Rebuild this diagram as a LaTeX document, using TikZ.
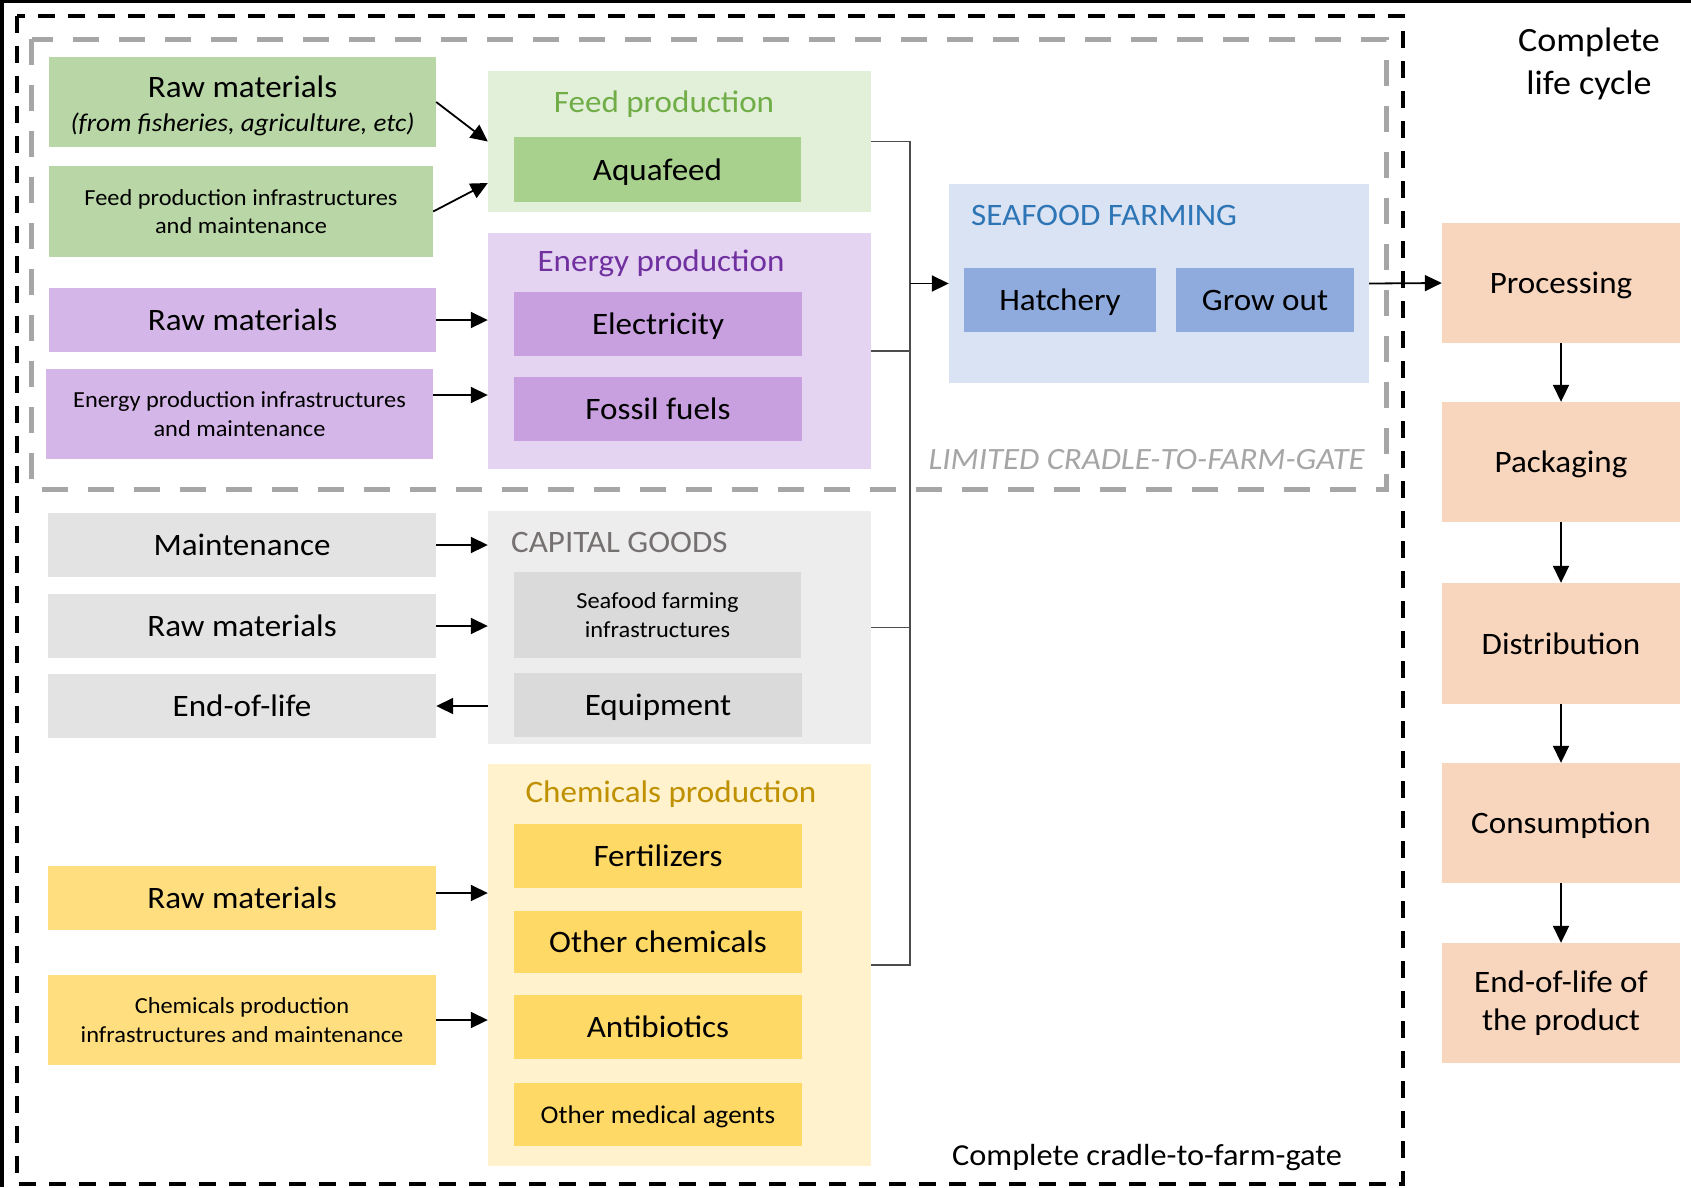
\documentclass[tikz,border=0pt]{standalone}
\usepackage{fontspec}
\setmainfont{Carlito}[FakeStretch=1.06]
\usetikzlibrary{arrows.meta}
\definecolor{gRaw}{HTML}{B9D7A6}
\definecolor{gIn}{HTML}{A9D18E}
\definecolor{gCont}{HTML}{E2F0D9}
\definecolor{gTxt}{HTML}{70AD47}
\definecolor{pRaw}{HTML}{D4B6E8}
\definecolor{pIn}{HTML}{C8A0E0}
\definecolor{pCont}{HTML}{E4D4F2}
\definecolor{pTxt}{HTML}{7030A0}
\definecolor{kRaw}{HTML}{E3E3E3}
\definecolor{kIn}{HTML}{DADADA}
\definecolor{kCont}{HTML}{EDEDED}
\definecolor{kTxt}{HTML}{767171}
\definecolor{yRaw}{HTML}{FFDE7F}
\definecolor{yIn}{HTML}{FFD966}
\definecolor{yCont}{HTML}{FFF2CC}
\definecolor{yTxt}{HTML}{BF9000}
\definecolor{bIn}{HTML}{8FAADC}
\definecolor{bCont}{HTML}{DAE3F3}
\definecolor{bTxt}{HTML}{2E75B6}
\definecolor{oBox}{HTML}{F8D6BD}
\definecolor{dashGray}{HTML}{A6A6A6}
\newcommand\bigf{\fontsize{31.2}{38}\selectfont}
\newcommand\smallf{\fontsize{23}{28.5}\selectfont}
\tikzset{
  box/.style={rectangle, draw=none, inner sep=0pt, align=center, font=\bigf, text height=27pt, text depth=6pt},
  mbox/.style={rectangle, draw=none, inner sep=0pt, align=center, font=\bigf},
  sbox/.style={mbox, font=\smallf},
  cont/.style={rectangle, draw=none, inner sep=0pt},
  arr/.style={line width=1.8pt, -{Triangle[length=17pt,width=16pt]}},
  conn/.style={line width=1.8pt, draw=black!70},
  lbl/.style={inner sep=0pt, font=\bigf, text height=24pt, text depth=6pt},
}
\begin{document}
\begin{tikzpicture}[x=1pt,y=-1pt]
\useasboundingbox (0,0) rectangle (1691,1187);
\fill[white] (0,0) rectangle (1691,1187);
% image border
\fill[black] (0,0) rectangle (1691,2.5);
\fill[black] (0,0) rectangle (4,1187);

% frames
\draw[black, line width=3.5pt, dash pattern=on 17pt off 13pt] (17,16) rectangle (1403,1184);
\draw[dashGray, line width=5pt, dash pattern=on 26pt off 20pt] (31.5,39) rectangle (1386,489);

% containers
\node[cont, fill=gCont, minimum width=383, minimum height=141] (feedc) at (679.5,141.5) {};
\node[cont, fill=pCont, minimum width=383, minimum height=236] (energyc) at (679.5,351) {};
\node[cont, fill=kCont, minimum width=383, minimum height=233] (capc) at (679.5,627.5) {};
\node[cont, fill=yCont, minimum width=383, minimum height=402] (chemc) at (679.5,965) {};
\node[cont, fill=bCont, minimum width=420, minimum height=199] (seafood) at (1159,283.5) {};

% container labels
\node[lbl, text=gTxt] (feedlbl) at (664,103) {Feed production};
\node[lbl, text=pTxt] (energylbl) at (661,262) {Energy production};
\node[lbl, text=kTxt, anchor=west] (caplbl) at (511,543) {CAPITAL GOODS};
\node[lbl, text=yTxt] (chemlbl) at (671,793) {Chemicals production};
\node[lbl, text=bTxt, anchor=west] (sealbl) at (971,216) {SEAFOOD FARMING};

% green
\node[cont, fill=gRaw, minimum width=387, minimum height=90,
  label={[name=gr1txt, align=center, font=\bigf, inner sep=0pt, yshift=-4pt]center:Raw materials\\[-4pt]{\fontsize{25.5}{31}\selectfont\itshape (from fisheries, agriculture, etc)}}] (gr1) at (242.5,102) {};
\node[sbox, fill=gRaw, minimum width=384, minimum height=91] (gr2) at (241,211.5)
  {Feed production infrastructures\\and maintenance};
\node[box, fill=gIn, minimum width=287, minimum height=65] (aqua) at (657.5,169.5) {Aquafeed};

% purple
\node[box, fill=pRaw, minimum width=387, minimum height=64] (pr) at (242.5,320) {Raw materials};
\node[sbox, fill=pRaw, minimum width=387, minimum height=90] (pi) at (239.5,414)
  {Energy production infrastructures\\and maintenance};
\node[box, fill=pIn, minimum width=288, minimum height=64] (elec) at (658,324) {Electricity};
\node[box, fill=pIn, minimum width=288, minimum height=64] (fossil) at (658,409) {Fossil fuels};

% gray
\node[box, fill=kRaw, minimum width=388, minimum height=64] (maint) at (242,545) {Maintenance};
\node[box, fill=kRaw, minimum width=388, minimum height=64] (kraw) at (242,626) {Raw materials};
\node[box, fill=kRaw, minimum width=388, minimum height=64] (keol) at (242,706) {End-of-life};
\node[sbox, fill=kIn, minimum width=287, minimum height=86] (sfi) at (657.5,615)
  {Seafood farming\\infrastructures};
\node[box, fill=kIn, minimum width=288, minimum height=64] (equip) at (658,705) {Equipment};

% yellow
\node[box, fill=yRaw, minimum width=388, minimum height=64] (yraw) at (242,898) {Raw materials};
\node[sbox, fill=yRaw, minimum width=388, minimum height=90] (yinf) at (242,1020)
  {Chemicals production\\infrastructures and maintenance};
\node[box, fill=yIn, minimum width=288, minimum height=64] (fert) at (658,856) {Fertilizers};
\node[box, fill=yIn, minimum width=288, minimum height=62] (ochem) at (658,942) {Other chemicals};
\node[box, fill=yIn, minimum width=288, minimum height=64] (antib) at (658,1027) {Antibiotics};
\node[box, fill=yIn, minimum width=288, minimum height=63, font=\fontsize{25.5}{30}\selectfont, text height=22pt, text depth=5pt] (omed) at (658,1114.5) {Other medical agents};

% blue
\node[box, fill=bIn, minimum width=192, minimum height=64] (hatch) at (1060,300) {Hatchery};
\node[box, fill=bIn, minimum width=178, minimum height=64] (grow) at (1265,300) {Grow out};

% orange
\node[box, fill=oBox, minimum width=238, minimum height=120] (proc) at (1561,283) {Processing};
\node[box, fill=oBox, minimum width=238, minimum height=120] (pack) at (1561,462) {Packaging};
\node[box, fill=oBox, minimum width=238, minimum height=121] (dist) at (1561,643.5) {Distribution};
\node[box, fill=oBox, minimum width=238, minimum height=120] (cons) at (1561,823) {Consumption};
\node[mbox, fill=oBox, minimum width=238, minimum height=120] (eolp) at (1561,1003) {End-of-life of\\the product};

% frame labels
\node[inner sep=0pt, font=\fontsize{31}{37}\selectfont\itshape, text=dashGray, anchor=east] (limlbl) at (1365,460) {LIMITED CRADLE-TO-FARM-GATE};
\node[inner sep=0pt, font=\fontsize{30.5}{36}\selectfont, text height=26pt, text depth=6pt] (complbl) at (1147,1155) {Complete cradle-to-farm-gate};
\node[inner sep=0pt, align=center, font=\fontsize{34}{43}\selectfont] (lclbl) at (1589,63.5) {Complete\\life cycle};

% input arrows
\draw[arr] (gr1.east) -- ([yshift=0pt]feedc.west);
\draw[arr] (gr2.east) -- ([yshift=-41.5pt]feedc.west);
\draw[arr] (pr.east) -- (pr.east -| energyc.west);
\draw[arr] ([yshift=19pt]pi.east) -- ([yshift=19pt]pi.east -| energyc.west);
\draw[arr] (maint.east) -- (maint.east -| capc.west);
\draw[arr] (kraw.east) -- (kraw.east -| capc.west);
\draw[arr] (keol.east -| capc.west) -- (keol.east);
\draw[arr] ([yshift=5pt]yraw.east) -- ([yshift=5pt]yraw.east -| chemc.west);
\draw[arr] (yinf.east) -- (yinf.east -| chemc.west);

% bus
\coordinate (bustop) at (910,141.5);
\coordinate (busbot) at (910,965);
\draw[conn] (feedc.east) -- (bustop) -- (busbot) -- (chemc.east);
\draw[conn] (energyc.east) -- (energyc.east -| bustop);
\draw[conn] (capc.east) -- (capc.east -| bustop);
\draw[arr] (seafood.west -| bustop) -- (seafood.west);

% life cycle chain
\draw[arr] (seafood.east) -- (proc.west);
\draw[arr] (proc.south) -- (pack.north);
\draw[arr] (pack.south) -- (dist.north);
\draw[arr] (dist.south) -- (cons.north);
\draw[arr] (cons.south) -- (eolp.north);
\end{tikzpicture}
\end{document}
